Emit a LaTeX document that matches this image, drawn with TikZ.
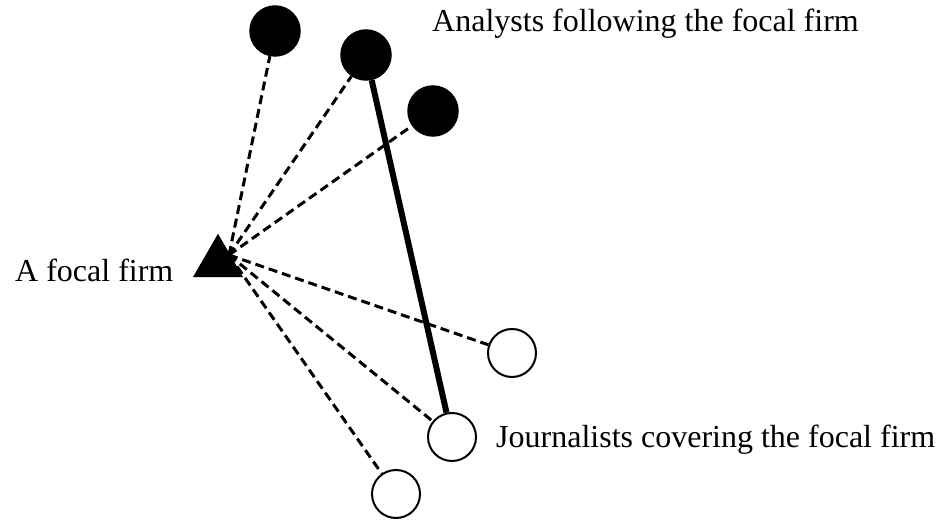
\documentclass[tikz,border=0pt]{standalone}
\usepackage{fontspec}
\setmainfont{Liberation Serif}
\usetikzlibrary{shapes.geometric}
\begin{document}
\begin{tikzpicture}[x=1pt,y=-1pt,
  analyst/.style={circle,fill=black,draw=black,line width=1.5pt,minimum size=50pt,inner sep=0pt},
  journalist/.style={circle,fill=white,draw=black,line width=2pt,minimum size=48pt,inner sep=0pt},
  firm/.style={regular polygon,regular polygon sides=3,fill=black,minimum size=57.7pt,inner sep=0pt},
  tie/.style={line width=3pt,dash pattern=on 9pt off 5pt},
  strong/.style={line width=6pt},
  lbl/.style={inner sep=0pt,anchor=base west,font=\fontsize{32pt}{36pt}\selectfont}]
\useasboundingbox (0,0) rectangle (940,521);
\node[firm] (f) at (218,262.6) {};
\coordinate (fc) at (229,255);
\node[analyst] (a1) at (275,31) {};
\node[analyst] (a2) at (366,55) {};
\node[analyst] (a3) at (433,111) {};
\node[journalist] (j1) at (512,353) {};
\node[journalist] (j2) at (452,437) {};
\node[journalist] (j3) at (396,494) {};
\foreach \n in {a1,a2,a3,j1,j2,j3} \draw[tie] (fc) -- (\n);
\draw[strong] (a2) -- (j2);
\node[lbl] (la) at (432,32) {Analysts following the focal firm};
\node[lbl] (lf) at (15,282) {A focal firm};
\node[lbl] (lj) at (496,447) {Journalists covering the focal firm};
\end{tikzpicture}
\end{document}
